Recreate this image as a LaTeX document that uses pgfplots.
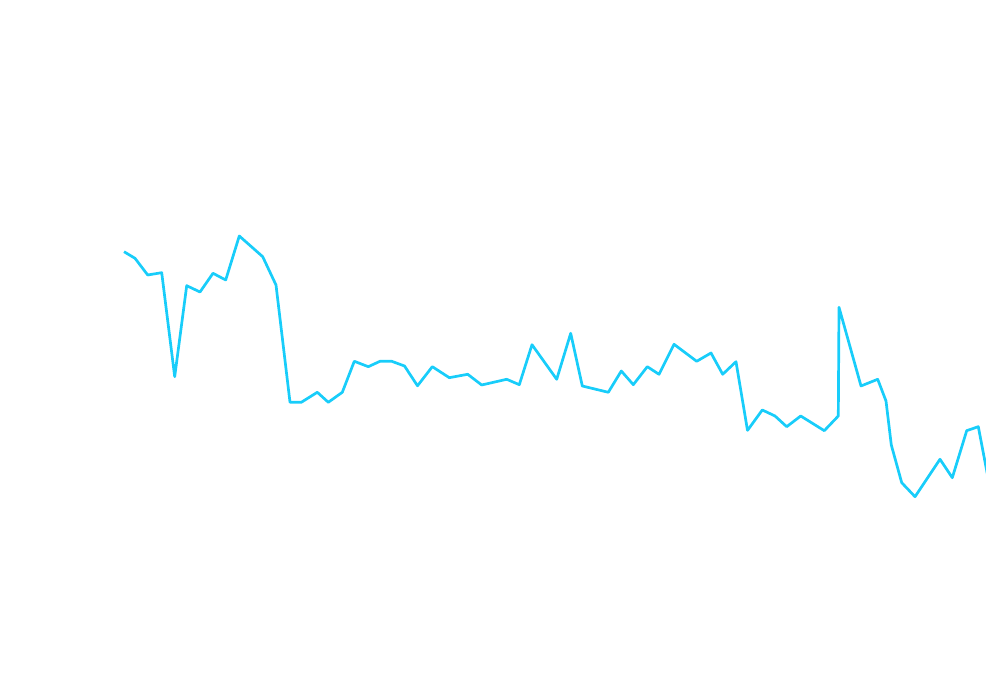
\documentclass[border=0pt]{standalone}
\usepackage{pgfplots}
\pgfplotsset{compat=1.18}
\definecolor{linecyan}{RGB}{24,205,250}

\begin{document}
\begin{tikzpicture}
\useasboundingbox (0,0) rectangle (986pt,700pt);
\begin{axis}[
    at={(0,0)}, anchor=south west,
    scale only axis,
    width=986pt, height=700pt,
    xmin=0, xmax=986, ymin=0, ymax=700,
    hide axis,
    clip=true
]
% values (x position, height from bottom)
\addplot[color=linecyan, line width=2.7pt, line join=round, mark=none]
coordinates {
    (124, 448.3)
    (135, 441.7)
    (147.7, 425)
    (161.7, 427.3)
    (174.7, 323.3)
    (186.7, 414.3)
    (200, 408)
    (213, 426.7)
    (225.7, 420)
    (239.3, 464)
    (262.7, 443.3)
    (276, 415)
    (290, 297.7)
    (301.3, 297.7)
    (317.3, 307.7)
    (328.3, 297.7)
    (342.3, 307.7)
    (354.3, 338.7)
    (368.3, 333.3)
    (380, 338.7)
    (391.7, 338.7)
    (404.5, 334)
    (417.5, 314.2)
    (432.3, 333.3)
    (449.3, 322.3)
    (467.7, 325.7)
    (481.7, 315)
    (506.7, 320.7)
    (519.3, 315.3)
    (532, 355.3)
    (556.7, 320.7)
    (570.7, 366.7)
    (582.3, 314)
    (608.3, 307.7)
    (621.3, 329)
    (633.3, 315.3)
    (647.3, 333.3)
    (659, 325.7)
    (674, 355.7)
    (696.7, 338.7)
    (711, 347)
    (722.7, 325.7)
    (736, 338.3)
    (747.5, 269.6)
    (762.3, 290)
    (775, 284)
    (786.7, 273.3)
    (800.7, 284)
    (824.3, 269.3)
    (838.3, 284)
    (839, 392.7)
    (861, 314)
    (877.7, 320.7)
    (886, 299)
    (891.3, 255)
    (901.7, 217.3)
    (915, 203.3)
    (940, 240.7)
    (952.3, 222.3)
    (966.7, 269.3)
    (978.3, 273.3)
    (990, 212)
};
\end{axis}
\end{tikzpicture}
\end{document}
